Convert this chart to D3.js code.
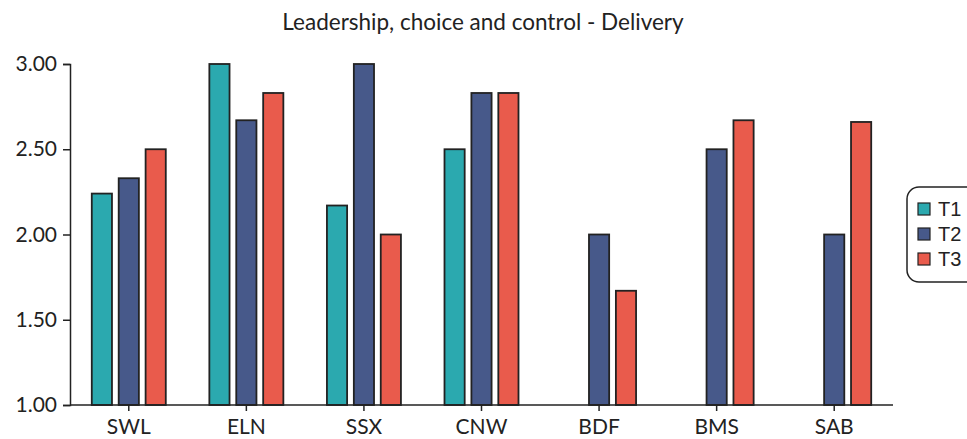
<!DOCTYPE html>
<html>
<head>
<meta charset="utf-8">
<script src="https://cdn.jsdelivr.net/npm/d3@7"></script>
<style>
  body { margin: 0; background: #fff; }
  text { font-family: Lato, "Open Sans", sans-serif; fill: #222; }
</style>
</head>
<body>
<div id="chart"></div>
<script>
// data
const sites = ["SWL", "ELN", "SSX", "CNW", "BDF", "BMS", "SAB"];
const series = ["T1", "T2", "T3"];
const t1 = [2.24, 3.00, 2.17, 2.50, null, null, null];
const t2 = [2.33, 2.67, 3.00, 2.83, 2.00, 2.50, 2.00];
const t3 = [2.50, 2.83, 2.00, 2.83, 1.67, 2.67, 2.66];
const yTicks = [1.00, 1.50, 2.00, 2.50, 3.00];
const colors = ["#2ba9af", "#47598a", "#e95b4c"];

const width = 967, height = 439;
const margin = { top: 64, bottom: 34, left: 70, right: 74 };
const groupW = 74;

const svg = d3.select("#chart").append("svg")
    .attr("width", width)
    .attr("height", height);

const xScale = d3.scaleBand()
    .domain(sites)
    .range([margin.left, width - margin.right]);

const xInner = d3.scaleBand()
    .domain(series)
    .range([0, groupW])
    .paddingInner(0.25);

const yScale = d3.scaleLinear()
    .domain([1, 3])
    .range([height - margin.bottom, margin.top]);

const rows = sites.map((s, i) => ({ site: s, vals: [t1[i], t2[i], t3[i]] }));

// bars
const groups = svg.selectAll(".grp")
    .data(rows)
    .join("g")
    .attr("class", "grp")
    .attr("transform", d => `translate(${xScale(d.site) + xScale.bandwidth() / 2 - groupW / 2},0)`);

groups.selectAll("rect")
    .data(d => d.vals.map((v, j) => ({ key: series[j], v: v, j: j })).filter(e => e.v != null))
    .join("rect")
    .attr("x", d => xInner(d.key))
    .attr("width", xInner.bandwidth())
    .attr("y", d => yScale(d.v))
    .attr("height", d => yScale(1) - yScale(d.v))
    .attr("fill", d => colors[d.j])
    .attr("stroke", "#222")
    .attr("stroke-width", 1.8);

// axes
const xAxis = d3.axisBottom(xScale).tickSizeOuter(0).tickSize(6).tickPadding(5);
const yAxis = d3.axisLeft(yScale).tickValues(yTicks).tickFormat(d3.format(".2f"))
    .tickSizeOuter(0).tickSize(7).tickPadding(6);

const gx = svg.append("g")
    .attr("class", "axis x-axis")
    .attr("transform", `translate(0,${yScale(1)})`)
    .call(xAxis);
gx.select(".domain").attr("stroke", "#222").attr("stroke-width", 1.5)
    .attr("d", `M${margin.left},0H${xScale.range()[1]}`);
gx.selectAll(".tick line").attr("stroke", "#222").attr("stroke-width", 1.5);
gx.selectAll(".tick text").attr("font-size", 21).attr("dy", "0.85em");

const gy = svg.append("g")
    .attr("class", "axis y-axis")
    .attr("transform", `translate(${margin.left},0)`)
    .call(yAxis);
gy.select(".domain").attr("stroke", "#222").attr("stroke-width", 1.5);
gy.selectAll(".tick line").attr("stroke", "#222").attr("stroke-width", 1.5);
gy.selectAll(".tick text").attr("font-size", 21);

// title
svg.append("text")
    .attr("x", 483)
    .attr("y", 30)
    .attr("text-anchor", "middle")
    .attr("font-size", 22.5)
    .text("Leadership, choice and control - Delivery");

// legend
const legend = svg.append("g").attr("transform", "translate(907,187)");
legend.append("rect")
    .attr("width", 80).attr("height", 95)
    .attr("rx", 12)
    .attr("fill", "#fff")
    .attr("stroke", "#222")
    .attr("stroke-width", 1.5);
const li = legend.selectAll(".li")
    .data(series)
    .join("g")
    .attr("class", "li")
    .attr("transform", (d, i) => `translate(11,${22 + i * 25})`);
li.append("rect")
    .attr("x", 0).attr("y", -6)
    .attr("width", 12).attr("height", 12)
    .attr("fill", (d, i) => colors[i])
    .attr("stroke", "#222")
    .attr("stroke-width", 1.2);
li.append("text")
    .attr("x", 20)
    .attr("dy", "0.36em")
    .attr("font-size", 20)
    .style("font-family", "'Liberation Sans', Arial, sans-serif")
    .text(d => d);
</script>
</body>
</html>
